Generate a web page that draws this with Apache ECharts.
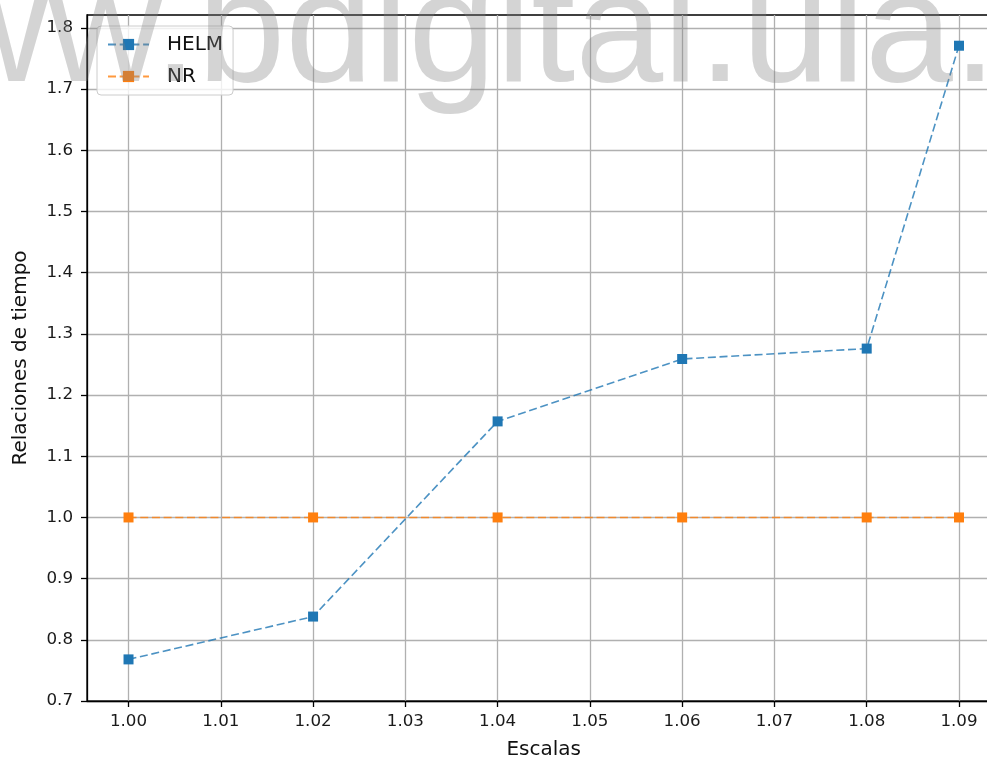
<!DOCTYPE html>
<html>
<head>
<meta charset="utf-8">
<script src="https://cdn.jsdelivr.net/npm/echarts@6/dist/echarts.min.js"></script>
<style>
  html, body { margin: 0; padding: 0; background: #fff; }
  #chart { width: 987px; height: 762px; }
</style>
</head>
<body>
<div id="chart"></div>
<script>
// Scale factors and the time ratios measured for each method
const escalas = [1.00, 1.02, 1.04, 1.06, 1.08, 1.09];
const helm = [0.768, 0.838, 1.157, 1.259, 1.276, 1.771];
const nr = [1.0, 1.0, 1.0, 1.0, 1.0, 1.0];

// Tick positions for both axes
const xTicks = [1.00, 1.01, 1.02, 1.03, 1.04, 1.05, 1.06, 1.07, 1.08, 1.09];
const yTicks = [0.7, 0.8, 0.9, 1.0, 1.1, 1.2, 1.3, 1.4, 1.5, 1.6, 1.7, 1.8];

const FONT = '"DejaVu Sans", sans-serif';
const BLUE = '#1f77b4';
const ORANGE = '#ff7f0e';

const pairs = (xs, ys) => xs.map((x, i) => [x, ys[i]]);

const chart = echarts.init(document.getElementById('chart'), null, { renderer: 'canvas' });

chart.setOption({
  animation: false,
  backgroundColor: '#ffffff',
  grid: {
    left: 87,
    top: 15,
    right: -13.5,
    bottom: 61,
    show: true,
    borderColor: '#000000',
    borderWidth: 1.3,
    backgroundColor: 'transparent',
    outerBoundsMode: 'none'
  },
  xAxis: {
    type: 'value',
    min: 0.9955,
    max: 1.0945,
    name: 'Escalas',
    nameLocation: 'middle',
    nameGap: 39,
    nameTextStyle: { fontFamily: FONT, fontSize: 20, color: '#111' },
    axisLine: { show: true, onZero: false, lineStyle: { color: '#000', width: 1.3 } },
    axisTick: {
      show: true, inside: false, length: 6,
      customValues: xTicks,
      lineStyle: { color: '#000', width: 1.3 }
    },
    axisLabel: {
      customValues: xTicks,
      margin: 12,
      fontFamily: FONT, fontSize: 16.7, color: '#1a1a1a',
      formatter: v => v.toFixed(2)
    },
    splitLine: { show: true, lineStyle: { color: '#b0b0b0', width: 1.3 } }
  },
  yAxis: {
    type: 'value',
    min: 0.7,
    max: 1.8212,
    name: 'Relaciones de tiempo',
    nameLocation: 'middle',
    nameGap: 56,
    nameRotate: 90,
    nameTextStyle: { fontFamily: FONT, fontSize: 20, color: '#111' },
    axisLine: { show: true, onZero: false, lineStyle: { color: '#000', width: 1.3 } },
    axisTick: {
      show: true, inside: false, length: 6,
      customValues: yTicks,
      lineStyle: { color: '#000', width: 1.3 }
    },
    axisLabel: {
      customValues: yTicks,
      margin: 14,
      fontFamily: FONT, fontSize: 16.7, color: '#1a1a1a',
      formatter: v => v.toFixed(1)
    },
    splitLine: { show: true, lineStyle: { color: '#b0b0b0', width: 1.3 } }
  },
  legend: {
    orient: 'vertical',
    left: 97,
    top: 26,
    padding: [7, 10, 7, 10],
    itemGap: 9,
    itemWidth: 41,
    itemHeight: 14,
    backgroundColor: 'rgba(255,255,255,0.8)',
    borderColor: '#cccccc',
    borderWidth: 1,
    borderRadius: 4,
    textStyle: {
      fontFamily: FONT, fontSize: 20, color: '#111',
      lineHeight: 23,
      padding: [0, 0, 0, 13]
    },
    data: ['HELM', 'NR']
  },
  series: [
    {
      name: 'HELM',
      type: 'line',
      data: pairs(escalas, helm),
      symbol: 'rect',
      symbolSize: 10,
      itemStyle: { color: BLUE },
      lineStyle: { color: BLUE, width: 1.6, type: [8, 3.7], opacity: 0.8 },
      z: 2
    },
    {
      name: 'NR',
      type: 'line',
      data: pairs(escalas, nr),
      symbol: 'rect',
      symbolSize: 10,
      itemStyle: { color: ORANGE },
      lineStyle: { color: ORANGE, width: 1.6, type: [8, 3.7], opacity: 0.8 },
      z: 3
    }
  ],
  graphic: [
    {
      // site watermark laid over the whole figure
      type: 'text',
      silent: true,
      z: 1000,
      zlevel: 1,
      left: -180,
      top: -42,
      style: {
        text: 'www.bdigital.ula.ve',
        font: '158px "Liberation Sans", Arial, sans-serif',
        fill: 'rgba(128,128,128,0.34)'
      }
    }
  ]
});
</script>
</body>
</html>
